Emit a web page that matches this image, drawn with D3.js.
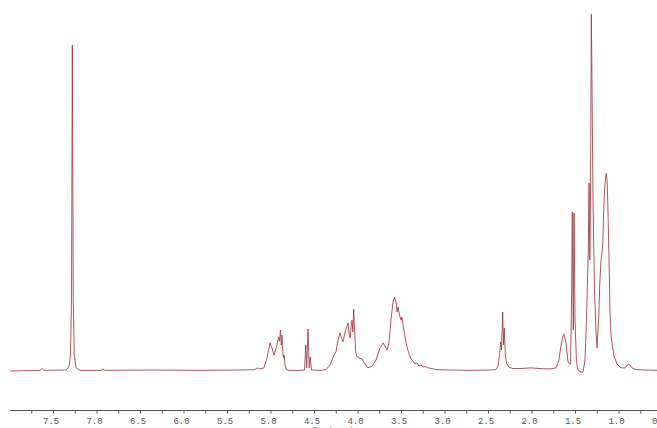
<!DOCTYPE html>
<html><head><meta charset="utf-8">
<script src="https://cdn.jsdelivr.net/npm/d3@7"></script>
<style>html,body{margin:0;padding:0;background:#fff;overflow:hidden}</style>
</head><body><svg id="c" width="657" height="428"></svg>
<script>
// chemical shift (ppm) of traced points
const shiftPpm = [7.99,7.649,7.626,7.603,7.351,7.316,7.299,7.287,7.278,7.267,7.256,7.236,7.19,6.948,6.925,6.902,6.385,5.81,5.351,5.178,5.155,5.121,5.075,5.04,5.006,4.983,4.96,4.926,4.914,4.905,4.897,4.885,4.876,4.868,4.859,4.851,4.843,4.833,4.816,4.776,4.661,4.609,4.595,4.584,4.569,4.555,4.544,4.529,4.431,4.362,4.316,4.27,4.247,4.224,4.201,4.184,4.167,4.138,4.109,4.094,4.084,4.072,4.063,4.054,4.044,4.033,4.023,4.011,3.983,3.948,3.914,3.879,3.833,3.787,3.741,3.707,3.684,3.661,3.638,3.615,3.592,3.575,3.557,3.546,3.534,3.517,3.5,3.489,3.477,3.454,3.431,3.408,3.385,3.362,3.339,3.316,3.293,3.27,3.247,3.224,3.19,3.144,3.098,2.937,2.707,2.477,2.408,2.385,2.368,2.354,2.345,2.331,2.322,2.313,2.301,2.289,2.259,2.213,2.132,2.017,1.902,1.787,1.718,1.684,1.661,1.638,1.626,1.603,1.58,1.551,1.54,1.531,1.52,1.511,1.5,1.483,1.466,1.431,1.408,1.385,1.368,1.356,1.347,1.339,1.33,1.322,1.312,1.301,1.293,1.276,1.259,1.247,1.236,1.227,1.216,1.201,1.19,1.181,1.172,1.161,1.149,1.14,1.132,1.121,1.109,1.098,1.086,1.075,1.052,1.017,0.971,0.925,0.897,0.879,0.862,0.845,0.799,0.695,0.557];
// intensity (arbitrary units, tallest peak = 100)
const intensity = [-0.3,-0.1,0.4,-0.1,0,0.8,4.2,19.7,91.3,19.7,4.2,0.6,-0.1,-0.1,0.3,-0.1,0,-0.1,0,0.1,0.6,0.3,0.6,3.4,7.6,6.2,4.2,7.0,8.4,9.3,8.1,11.2,7.0,9.8,5.1,3.4,4.2,1.4,0.1,-0.1,-0.1,0,7.0,0.6,11.5,0.6,3.7,0,-0.1,0.1,1.4,4.2,5.1,8.4,10.4,9.0,7.9,11.2,13.2,9.8,9.0,12.6,14.0,10.7,17.1,11.2,5.6,3.9,3.4,3.1,1.7,0.6,1.1,2.8,6.2,7.6,6.7,5.6,7.6,14.0,19.1,20.5,19.1,16.3,17.7,15.4,14.0,14.9,12.6,9.3,6.5,4.5,3.1,2.5,1.7,2.0,1.1,1.4,0.8,1.0,0.6,0.4,0.1,0,-0.1,0,0.1,1.1,4.2,7.9,5.6,16.3,7.0,11.8,4.2,2.0,0.8,0.4,0.4,0.6,0.4,0.3,0.6,2.8,7.0,9.6,10.1,7.6,2.2,1.7,19.7,44.4,11.2,44.1,14.0,2.2,0,-0.6,-0.6,2.8,14.0,25.3,33.7,52.5,30.9,47.8,100,70.2,47.8,22.5,11.2,6.2,11.2,14.6,23.9,30.9,33.1,35.1,43.5,50.6,53.9,55.3,53.4,44.9,30.9,16.9,9.8,7.6,3.9,1.7,0.6,0.6,1.4,1.7,1.1,0.6,0.1,0,-0.1];

const tickValues = [7.75,7.5,7.25,7.0,6.75,6.5,6.25,6.0,5.75,5.5,5.25,5.0,4.75,4.5,4.25,4.0,3.75,3.5,3.25,3.0,2.75,2.5,2.25,2.0,1.75,1.5,1.25,1.0,0.75,0.5];
const tickLabels = ["7.5","7.0","6.5","6.0","5.5","5.0","4.5","4.0","3.5","3.0","2.5","2.0","1.5","1.0","0.5"];
const labelValues = [7.5,7.0,6.5,6.0,5.5,5.0,4.5,4.0,3.5,3.0,2.5,2.0,1.5,1.0,0.5];
const axisTitle = "f1 (ppm)";

const svg = d3.select("#c");
const x = d3.scaleLinear().domain([7.5, 1.0]).range([53, 618.5]);
const y = d3.scaleLinear().domain([0, 100]).range([370, 14]);

const pts = shiftPpm.map((p, i) => [p, intensity[i]]);
svg.append("path")
  .datum(pts)
  .attr("fill", "none")
  .attr("stroke", "#9b3a44")
  .attr("stroke-width", 0.85)
  .attr("stroke-linejoin", "round")
  .attr("d", d3.line().x(d => x(d[0])).y(d => y(d[1])));

// axis
const axisY = 410.5;
svg.append("line").attr("x1", 10).attr("x2", 657).attr("y1", axisY).attr("y2", axisY)
  .attr("stroke", "#555").attr("stroke-width", 1);
const ax = d3.axisBottom(x).tickValues(tickValues).tickSize(3).tickFormat("");
const g = svg.append("g").attr("transform", `translate(0,${axisY})`).call(ax);
g.select(".domain").remove();
g.selectAll(".tick line").attr("stroke", "#555");

svg.append("g").selectAll("text").data(labelValues).join("text")
  .attr("x", d => x(d) - 2)
  .attr("y", 423.5)
  .attr("text-anchor", "middle")
  .attr("font-family", "Liberation Mono, DejaVu Sans Mono, monospace")
  .attr("font-size", 9)
  .attr("fill", "#555")
  .text((d, i) => tickLabels[i]);

svg.append("text").attr("x", 333).attr("y", 434)
  .attr("text-anchor", "middle")
  .attr("font-family", "Liberation Mono, DejaVu Sans Mono, monospace")
  .attr("font-size", 9).attr("fill", "#555").text(axisTitle);
</script></body></html>
